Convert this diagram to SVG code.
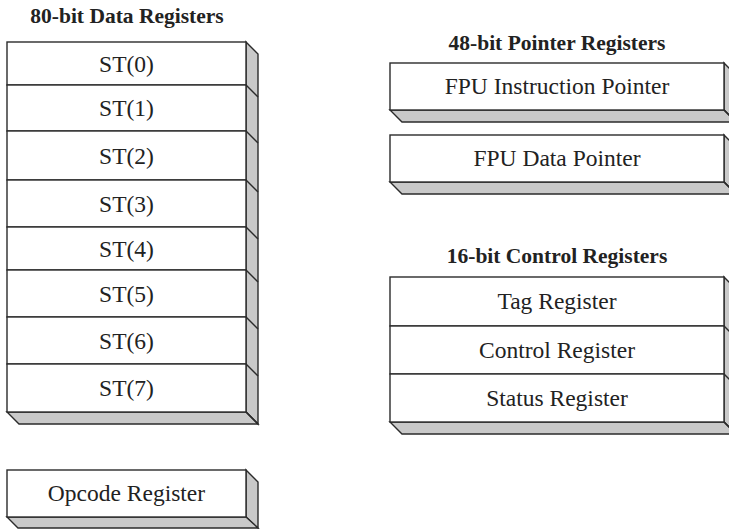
<svg xmlns="http://www.w3.org/2000/svg" width="729" height="529" viewBox="0 0 729 529">
<style>
.face{fill:#ffffff;stroke:#2b2b2b;stroke-width:1.4}
.shade{fill:#c9c9c9;stroke:#2b2b2b;stroke-width:1.4;stroke-linejoin:miter}
.edge{stroke:#2b2b2b;stroke-width:1.4;fill:none}
.lbl{font-family:"Liberation Serif","Times New Roman",serif;font-size:23.5px;fill:#222;text-anchor:middle}
.ttl{font-family:"Liberation Serif","Times New Roman",serif;font-size:21.5px;font-weight:bold;fill:#222;text-anchor:middle}
</style>
<rect width="729" height="529" fill="#ffffff"/>

<g id="data-registers">
  <text class="ttl" x="127" y="23">80-bit Data Registers</text>
  <polygon class="shade" points="246,42 258,54 258,424 246,412"/>
  <polygon class="shade" points="7,412 246,412 258,424 19,424"/>
  <g id="st0"><rect class="face" x="7" y="42" width="239" height="43"/><text class="lbl" x="126.5" y="72">ST(0)</text></g>
  <g id="st1"><rect class="face" x="7" y="85" width="239" height="46"/><line class="edge" x1="246" y1="85" x2="258" y2="97"/><text class="lbl" x="126.5" y="116">ST(1)</text></g>
  <g id="st2"><rect class="face" x="7" y="131" width="239" height="49"/><line class="edge" x1="246" y1="131" x2="258" y2="143"/><text class="lbl" x="126.5" y="164">ST(2)</text></g>
  <g id="st3"><rect class="face" x="7" y="180" width="239" height="47"/><line class="edge" x1="246" y1="180" x2="258" y2="192"/><text class="lbl" x="126.5" y="212">ST(3)</text></g>
  <g id="st4"><rect class="face" x="7" y="227" width="239" height="43"/><line class="edge" x1="246" y1="227" x2="258" y2="239"/><text class="lbl" x="126.5" y="257">ST(4)</text></g>
  <g id="st5"><rect class="face" x="7" y="270" width="239" height="47"/><line class="edge" x1="246" y1="270" x2="258" y2="282"/><text class="lbl" x="126.5" y="302">ST(5)</text></g>
  <g id="st6"><rect class="face" x="7" y="317" width="239" height="47"/><line class="edge" x1="246" y1="317" x2="258" y2="329"/><text class="lbl" x="126.5" y="349">ST(6)</text></g>
  <g id="st7"><rect class="face" x="7" y="364" width="239" height="48"/><line class="edge" x1="246" y1="364" x2="258" y2="376"/><text class="lbl" x="126.5" y="396">ST(7)</text></g>
  <line class="edge" x1="246" y1="412" x2="258" y2="424"/>
</g>

<g id="opcode-register">
  <polygon class="shade" points="246,470 258,482 258,528 246,517"/>
  <polygon class="shade" points="7,517 246,517 258,528 18,528"/>
  <rect class="face" x="7" y="470" width="239" height="47"/>
  <text class="lbl" x="126.5" y="501">Opcode Register</text>
</g>

<g id="pointer-registers">
  <text class="ttl" x="557" y="50">48-bit Pointer Registers</text>
  <g id="fpu-instruction-pointer">
    <polygon class="shade" points="724,63 736,75 736,122 724,110"/>
    <polygon class="shade" points="390,110 724,110 736,122 402,122"/>
    <rect class="face" x="390" y="63" width="334" height="47"/>
    <line class="edge" x1="724" y1="110" x2="736" y2="122"/>
    <text class="lbl" x="557" y="94">FPU Instruction Pointer</text>
  </g>
  <g id="fpu-data-pointer">
    <polygon class="shade" points="724,135 736,147 736,194 724,182"/>
    <polygon class="shade" points="390,182 724,182 736,194 402,194"/>
    <rect class="face" x="390" y="135" width="334" height="47"/>
    <line class="edge" x1="724" y1="182" x2="736" y2="194"/>
    <text class="lbl" x="557" y="166">FPU Data Pointer</text>
  </g>
</g>

<g id="control-registers">
  <text class="ttl" x="557" y="263">16-bit Control Registers</text>
  <polygon class="shade" points="724,277 736,289 736,434 724,422"/>
  <polygon class="shade" points="390,422 724,422 736,434 402,434"/>
  <g id="tag-register"><rect class="face" x="390" y="277" width="334" height="49"/><text class="lbl" x="557" y="309">Tag Register</text></g>
  <g id="control-register"><rect class="face" x="390" y="326" width="334" height="48"/><line class="edge" x1="724" y1="326" x2="736" y2="338"/><text class="lbl" x="557" y="358">Control Register</text></g>
  <g id="status-register"><rect class="face" x="390" y="374" width="334" height="48"/><line class="edge" x1="724" y1="374" x2="736" y2="386"/><text class="lbl" x="557" y="406">Status Register</text></g>
  <line class="edge" x1="724" y1="422" x2="736" y2="434"/>
</g>

<g id="connectors"/>
</svg>
